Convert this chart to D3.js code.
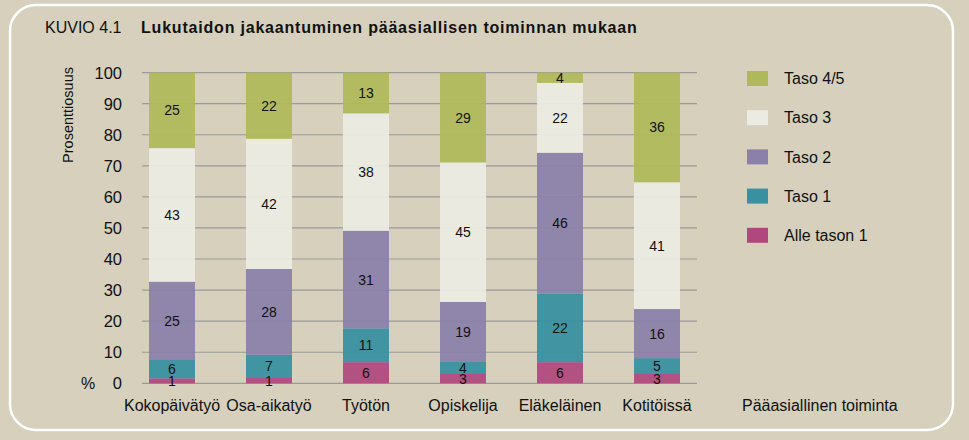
<!DOCTYPE html>
<html><head><meta charset="utf-8">
<script src="https://cdn.jsdelivr.net/npm/d3@7"></script>
<style>
html,body{margin:0;padding:0;background:#d6d0bd;}
svg{display:block;font-family:"Liberation Sans",Arial,Helvetica,sans-serif;}
</style></head>
<body>
<svg id="c" width="969" height="440"></svg>
<script>
const categories = ["Kokopäivätyö","Osa-aikatyö","Työtön","Opiskelija","Eläkeläinen","Kotitöissä"];
const seriesNames = ["Alle tason 1","Taso 1","Taso 2","Taso 3","Taso 4/5"];
// segment values (percent)
const alleTason1 = [1.6, 1.7, 6.8, 3.0, 6.8, 3.0];
const taso1      = [5.9, 7.5, 10.9, 4.1, 22.0, 5.1];
const taso2      = [25.2, 27.6, 31.4, 19.1, 45.4, 15.8];
const taso3      = [43.0, 41.9, 37.8, 44.9, 22.5, 40.8];
const taso45     = [24.3, 21.3, 13.1, 28.9, 3.3, 35.3];
// printed labels
const alleTason1Labels = [1, 1, 6, 3, 6, 3];
const taso1Labels      = [6, 7, 11, 4, 22, 5];
const taso2Labels      = [25, 28, 31, 19, 46, 16];
const taso3Labels      = [43, 42, 38, 45, 22, 41];
const taso45Labels     = [25, 22, 13, 29, 4, 36];
const yTicks = [0,10,20,30,40,50,60,70,80,90,100];
const colors = ["#b0487f","#3791a0","#8b80a9","#ecebe3","#b0b95a"];

const seriesVals = [alleTason1, taso1, taso2, taso3, taso45];
const seriesLabels = [alleTason1Labels, taso1Labels, taso2Labels, taso3Labels, taso45Labels];

const rows = categories.map((c,i)=>{
  const r = {cat:c};
  seriesNames.forEach((s,j)=> r[s] = seriesVals[j][i]);
  return r;
});
const stack = d3.stack().keys(seriesNames)(rows);

const svg = d3.select("#c");
// frame
svg.append("rect").attr("x",10).attr("y",5).attr("width",943).attr("height",425)
  .attr("rx",26).attr("ry",26).attr("fill","none").attr("stroke","#fff").attr("stroke-width",2.5);

svg.append("text").attr("x",45).attr("y",33).attr("font-size",16).attr("fill","#111").text("KUVIO 4.1");
svg.append("text").attr("x",141).attr("y",33).attr("font-size",16).attr("font-weight","bold").attr("fill","#111")
  .attr("letter-spacing",0.8)
  .text("Lukutaidon jakaantuminen pääasiallisen toiminnan mukaan");

const x = d3.scaleBand().domain(categories).range([123.5,705.5]).paddingInner(0.526).paddingOuter(0.263);
const y = d3.scaleLinear().domain([0,100]).range([383.3,72.6]);

// gridlines
svg.append("g").selectAll("line").data(yTicks).join("line")
  .attr("x1",142).attr("x2",697).attr("y1",d=>y(d)).attr("y2",d=>y(d))
  .attr("stroke","#9a9a9a").attr("stroke-width",1.2);

// y labels
svg.append("g").selectAll("text").data(yTicks).join("text")
  .attr("x",122).attr("y",d=>y(d)).attr("dy","0.36em").attr("text-anchor","end")
  .attr("font-size",16.5).attr("fill","#111").text(d=>d);
svg.append("text").attr("x",88).attr("y",y(0)).attr("dy","0.36em").attr("text-anchor","middle")
  .attr("font-size",16).attr("fill","#111").text("%");
svg.append("text").attr("transform","translate(73,67) rotate(-90)").attr("text-anchor","end")
  .attr("font-size",14.5).attr("fill","#111").text("Prosenttiosuus");

// bars
const g = svg.append("g");
stack.forEach((layer,j)=>{
  g.append("g").selectAll("rect").data(layer).join("rect")
    .attr("x",d=>x(d.data.cat)).attr("width",x.bandwidth())
    .attr("y",d=>y(d[1])).attr("height",d=>y(d[0])-y(d[1]))
    .attr("fill",colors[j]).attr("fill-opacity",0.94);
});
stack.forEach((layer,j)=>{
  g.append("g").selectAll("text").data(layer).join("text")
    .attr("x",d=>x(d.data.cat)+x.bandwidth()/2)
    .attr("y",d=>(y(d[0])+y(d[1]))/2).attr("dy","0.36em")
    .attr("text-anchor","middle").attr("font-size",14).attr("fill","#111")
    .text((d,i)=>seriesLabels[j][i]);
});

// x labels
svg.append("g").selectAll("text").data(categories).join("text")
  .attr("x",d=>x(d)+x.bandwidth()/2).attr("y",411).attr("text-anchor","middle")
  .attr("font-size",16).attr("fill","#111").text(d=>d);
svg.append("text").attr("x",742).attr("y",411).attr("font-size",16).attr("fill","#111").text("Pääasiallinen toiminta");

// legend
const legendOrder = seriesNames.slice().reverse();
const lg = svg.append("g").selectAll("g").data(legendOrder).join("g")
  .attr("transform",(d,i)=>`translate(747,${71+i*39.2})`);
lg.append("rect").attr("width",21).attr("height",15).attr("fill",d=>colors[seriesNames.indexOf(d)]);
lg.append("text").attr("x",37).attr("y",7.5).attr("dy","0.36em").attr("font-size",16).attr("fill","#111").text(d=>d);
</script>
</body></html>
